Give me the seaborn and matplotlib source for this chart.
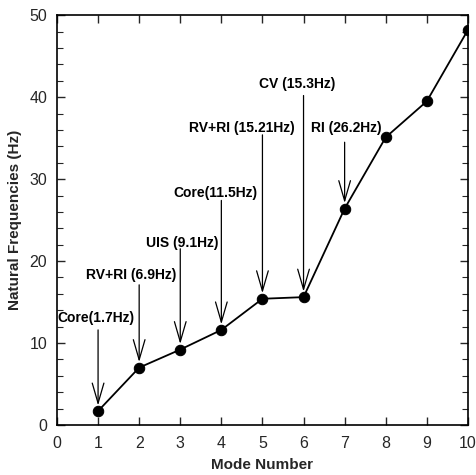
import matplotlib
matplotlib.use("Agg")
import matplotlib.pyplot as plt
import seaborn as sns
import pandas as pd
from matplotlib.ticker import MultipleLocator

# ---- data ----
modes = [1, 2, 3, 4, 5, 6, 7, 8, 9, 10]
freqs = [1.7, 7.0, 9.2, 11.6, 15.4, 15.6, 26.4, 35.1, 39.5, 48.2]
labels = ["Core(1.7Hz)", "RV+RI (6.9Hz)", "UIS (9.1Hz)", "Core(11.5Hz)",
          "RV+RI (15.21Hz)", "CV (15.3Hz)", "RI (26.2Hz)"]
label_modes = [1, 2, 3, 4, 5, 6, 7]

# ---- layout of annotations (text centre x, text centre y, arrow start y) ----
text_x = [0.95, 1.80, 3.05, 3.85, 4.51, 5.85, 7.05]
text_y = [13.05, 18.3, 22.2, 28.3, 36.2, 41.6, 36.2]
arrow_y0 = [11.6, 17.1, 21.5, 27.4, 35.4, 40.2, 34.5]

sns.set_style("ticks")
plt.rcParams["font.family"] = ["Liberation Sans", "DejaVu Sans"]

df = pd.DataFrame({"Mode Number": modes, "Natural Frequencies (Hz)": freqs})

fig = plt.figure(figsize=(4.76, 4.75), dpi=100)
ax = fig.add_axes([0.1197, 0.1053, 0.983 - 0.1197, 0.968 - 0.1053])

sns.lineplot(data=df, x="Mode Number", y="Natural Frequencies (Hz)", ax=ax,
             color="black", linewidth=1.3, marker="o", markersize=7.5,
             markeredgecolor="black", markerfacecolor="black")

for lab, m, tx, ty, y0 in zip(labels, label_modes, text_x, text_y, arrow_y0):
    ax.text(tx, ty, lab, ha="center", va="center", fontsize=10,
            fontweight="bold", color="black")
    fy = freqs[modes.index(m)]
    ax.annotate("", xy=(m, fy), xytext=(m, y0),
                arrowprops=dict(arrowstyle="->,head_length=1.45,head_width=0.42",
                                color="black", lw=0.9, shrinkA=0, shrinkB=4,
                                mutation_scale=10))

ax.set_xlim(0, 10)
ax.set_ylim(0, 50)
ax.xaxis.set_major_locator(MultipleLocator(1))
ax.yaxis.set_major_locator(MultipleLocator(10))
ax.yaxis.set_minor_locator(MultipleLocator(2))
ax.tick_params(axis="both", which="major", direction="in", length=6, width=1,
               labelsize=11.5, top=True, right=True, pad=7)
ax.tick_params(axis="y", which="minor", direction="in", length=4, width=0.8,
               left=True, right=True)
ax.tick_params(axis="x", which="major", pad=8)
for s in ax.spines.values():
    s.set_linewidth(1.2)
    s.set_color("black")

ax.set_xlabel("Mode Number", fontsize=11, fontweight="bold", labelpad=5)
ax.set_ylabel("Natural Frequencies (Hz)", fontsize=11, fontweight="bold", labelpad=5)

fig.savefig("out.png", dpi=100)
